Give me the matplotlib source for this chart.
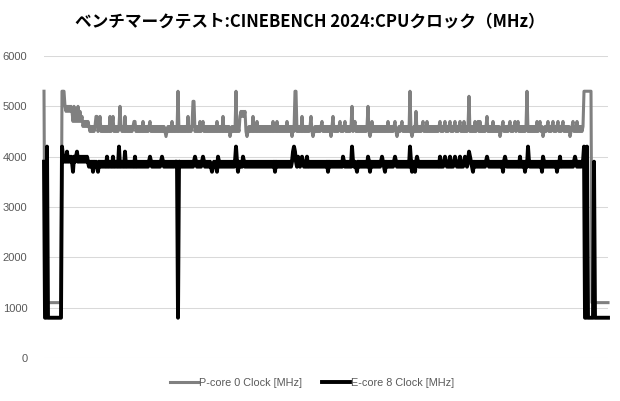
import matplotlib
matplotlib.use('Agg')
import matplotlib.pyplot as plt
import numpy as np

title = 'ベンチマークテスト:CINEBENCH 2024:CPUクロック（MHz）'
series_names = ['P-core 0 Clock [MHz]', 'E-core 8 Clock [MHz]']
y_ticks = [0, 1000, 2000, 3000, 4000, 5000, 6000]

# clock readings in units of 100 MHz, one per sample (20 samples per row)
p_core = [
    53, 11, 11, 11, 11, 11, 11, 11, 11, 11, 11, 11, 11, 11, 11, 11, 11, 11, 53, 53,
    53, 50, 49, 50, 49, 50, 49, 50, 49, 47, 50, 47, 49, 47, 50, 47, 49, 47, 48, 46,
    47, 46, 47, 46, 47, 46, 45, 46, 45, 46, 45, 46, 48, 48, 45, 46, 48, 45, 46, 45,
    46, 45, 46, 45, 46, 45, 48, 45, 46, 48, 45, 46, 45, 46, 45, 46, 50, 46, 45, 46,
    45, 48, 45, 46, 45, 46, 45, 46, 45, 46, 47, 47, 45, 46, 45, 46, 45, 46, 45, 47,
    45, 46, 45, 46, 45, 46, 47, 45, 46, 45, 46, 45, 46, 45, 46, 45, 46, 45, 46, 45,
    46, 45, 44, 45, 46, 45, 46, 45, 47, 45, 46, 45, 46, 45, 53, 45, 46, 45, 46, 45,
    46, 45, 46, 45, 48, 45, 46, 45, 46, 51, 51, 45, 46, 45, 46, 45, 47, 45, 46, 47,
    45, 46, 45, 46, 45, 46, 45, 46, 45, 46, 45, 46, 45, 47, 45, 46, 45, 46, 45, 48,
    45, 46, 45, 46, 45, 46, 44, 45, 46, 45, 46, 45, 53, 45, 46, 45, 48, 49, 48, 49,
    48, 49, 45, 44, 45, 46, 45, 46, 45, 48, 45, 46, 45, 47, 45, 46, 45, 46, 45, 46,
    45, 46, 45, 46, 45, 46, 45, 46, 45, 47, 45, 46, 45, 47, 45, 46, 45, 46, 45, 46,
    45, 46, 45, 47, 45, 46, 45, 46, 44, 46, 45, 53, 53, 45, 46, 45, 46, 45, 48, 45,
    46, 45, 46, 45, 46, 45, 46, 48, 45, 44, 45, 46, 45, 46, 45, 46, 45, 46, 47, 45,
    46, 45, 46, 45, 46, 45, 46, 44, 46, 48, 45, 46, 45, 46, 45, 46, 47, 45, 46, 45,
    46, 47, 45, 46, 45, 46, 45, 46, 50, 45, 46, 47, 45, 46, 45, 46, 45, 46, 45, 46,
    45, 46, 45, 46, 50, 45, 44, 45, 47, 45, 46, 45, 46, 45, 46, 45, 46, 45, 46, 45,
    46, 45, 46, 45, 47, 45, 46, 45, 46, 45, 46, 47, 45, 44, 45, 46, 45, 46, 47, 45,
    46, 45, 46, 45, 46, 45, 53, 45, 44, 45, 46, 45, 49, 45, 46, 45, 46, 45, 46, 47,
    45, 46, 45, 47, 45, 46, 45, 46, 45, 46, 45, 46, 45, 46, 45, 46, 47, 45, 46, 45,
    46, 47, 45, 46, 45, 46, 47, 45, 46, 45, 46, 47, 45, 46, 45, 46, 47, 45, 46, 45,
    47, 45, 46, 45, 46, 52, 45, 46, 45, 46, 45, 47, 45, 46, 47, 45, 47, 45, 46, 45,
    46, 45, 46, 48, 45, 46, 45, 46, 45, 47, 45, 46, 45, 46, 45, 46, 44, 45, 46, 47,
    45, 46, 45, 46, 45, 46, 47, 45, 46, 45, 46, 47, 45, 46, 47, 45, 46, 45, 46, 45,
    46, 45, 46, 53, 45, 46, 45, 46, 45, 46, 45, 46, 45, 47, 45, 46, 47, 45, 46, 44,
    45, 46, 45, 46, 47, 45, 46, 45, 46, 47, 45, 46, 45, 46, 47, 45, 46, 45, 46, 47,
    45, 46, 45, 46, 45, 46, 44, 45, 46, 47, 45, 46, 45, 47, 45, 46, 45, 46, 45, 46,
    53, 53, 53, 53, 53, 53, 53, 53, 11, 11, 11, 11, 11, 11, 11, 11, 11, 11, 11, 11,
    11, 11, 11, 11, 11,
]

e_core = [
    39, 8, 8, 42, 8, 8, 8, 8, 8, 8, 8, 8, 8, 8, 8, 8, 8, 8, 42, 40,
    39, 40, 39, 41, 39, 40, 39, 40, 39, 37, 40, 39, 40, 41, 39, 40, 39, 40, 39, 40,
    39, 40, 39, 40, 39, 38, 39, 38, 39, 37, 39, 38, 39, 38, 37, 39, 38, 39, 38, 39,
    38, 39, 38, 40, 38, 39, 38, 39, 38, 40, 38, 39, 38, 39, 38, 42, 38, 39, 38, 39,
    38, 41, 38, 39, 38, 39, 38, 39, 38, 39, 38, 40, 38, 39, 38, 39, 38, 39, 38, 39,
    38, 39, 38, 39, 38, 39, 40, 39, 38, 39, 38, 39, 38, 39, 38, 39, 38, 39, 40, 39,
    38, 39, 38, 39, 38, 39, 38, 39, 38, 39, 38, 39, 39, 39, 8, 39, 39, 38, 39, 38,
    39, 38, 39, 38, 39, 38, 39, 38, 39, 38, 39, 40, 39, 38, 39, 38, 39, 38, 39, 40,
    39, 38, 39, 38, 39, 38, 39, 38, 37, 38, 39, 38, 39, 37, 40, 39, 38, 39, 38, 39,
    38, 39, 38, 39, 38, 39, 38, 39, 38, 39, 38, 39, 42, 39, 37, 39, 38, 39, 38, 40,
    39, 38, 39, 38, 39, 38, 39, 38, 39, 38, 39, 38, 39, 38, 39, 38, 39, 38, 39, 38,
    39, 38, 39, 38, 39, 38, 39, 38, 39, 38, 39, 37, 39, 38, 39, 38, 39, 38, 39, 38,
    39, 38, 39, 38, 39, 38, 39, 38, 39, 41, 42, 41, 39, 38, 40, 39, 38, 39, 40, 39,
    38, 39, 38, 40, 38, 39, 38, 39, 38, 39, 38, 39, 38, 39, 38, 39, 38, 39, 38, 39,
    38, 39, 38, 39, 37, 39, 38, 39, 38, 39, 38, 39, 38, 39, 38, 39, 38, 39, 38, 40,
    39, 38, 39, 38, 39, 38, 39, 38, 42, 39, 38, 39, 38, 37, 39, 38, 39, 38, 39, 38,
    39, 38, 39, 38, 40, 39, 37, 39, 38, 39, 38, 39, 38, 39, 38, 39, 38, 39, 40, 39,
    38, 37, 39, 38, 39, 38, 39, 38, 39, 38, 39, 40, 39, 38, 39, 38, 39, 38, 39, 38,
    39, 38, 39, 38, 39, 38, 42, 39, 37, 39, 38, 37, 39, 40, 39, 38, 39, 38, 39, 38,
    39, 38, 39, 38, 39, 38, 39, 38, 39, 38, 39, 38, 39, 38, 39, 38, 40, 38, 39, 38,
    39, 40, 39, 38, 39, 38, 40, 38, 39, 38, 39, 40, 39, 38, 39, 38, 40, 38, 39, 38,
    39, 40, 39, 38, 39, 41, 40, 39, 38, 37, 39, 38, 39, 38, 39, 38, 39, 38, 39, 38,
    39, 38, 39, 40, 39, 38, 39, 38, 39, 38, 39, 38, 39, 38, 39, 38, 39, 38, 39, 37,
    39, 40, 39, 38, 39, 38, 39, 38, 39, 38, 39, 38, 39, 38, 39, 38, 40, 38, 39, 38,
    39, 37, 39, 38, 42, 39, 38, 39, 38, 39, 38, 39, 38, 39, 38, 39, 38, 39, 37, 40,
    39, 38, 39, 38, 39, 38, 39, 38, 39, 38, 39, 38, 39, 37, 39, 38, 40, 38, 39, 38,
    39, 38, 39, 38, 39, 38, 39, 38, 39, 38, 39, 40, 39, 38, 39, 38, 39, 38, 39, 39,
    42, 8, 8, 42, 8, 8, 8, 8, 8, 8, 39, 8, 8, 8, 8, 8, 8, 8, 8, 8,
    8, 8, 8, 8, 8,
]

p_mhz = np.array(p_core) * 100
e_mhz = np.array(e_core) * 100
x = np.arange(len(p_core))

W, H = 620, 401
fig = plt.figure(figsize=(W / 100, H / 100), dpi=100)
ax = fig.add_axes([44 / W, 43 / H, 564 / W, 302 / H])

ax.plot(x, p_mhz, color='#808080', lw=2.2, label=series_names[0], clip_on=False, zorder=3)
ax.plot(x, e_mhz, color='#000000', lw=2.8, label=series_names[1], clip_on=False, zorder=4)

ax.set_xlim(0, len(x) - 1)
ax.set_ylim(0, 6000)
ax.set_yticks(y_ticks)
ax.set_yticklabels([str(v) for v in y_ticks], family='Liberation Sans')
ax.set_xticks([])
ax.grid(axis='y', color='#d9d9d9', lw=0.75)
ax.set_axisbelow(True)
for s in ax.spines.values():
    s.set_visible(False)
ax.tick_params(axis='y', length=0, pad=12, labelcolor='#595959', labelsize=8)

fig.text(0.5, 1 - 22 / H, title, ha='center', va='center', fontsize=12,
         fontweight='bold', family=['Noto Sans CJK JP', 'DejaVu Sans'], color='#000000')

leg = fig.legend(loc='center', bbox_to_anchor=(0.503, 1 - 383 / H), ncol=2, frameon=False,
                 prop={'family': 'Liberation Sans', 'size': 7.8},
                 handlelength=2.6, handletextpad=0.1, columnspacing=1.8, labelcolor='#595959')

fig.savefig('out.png', dpi=100)
